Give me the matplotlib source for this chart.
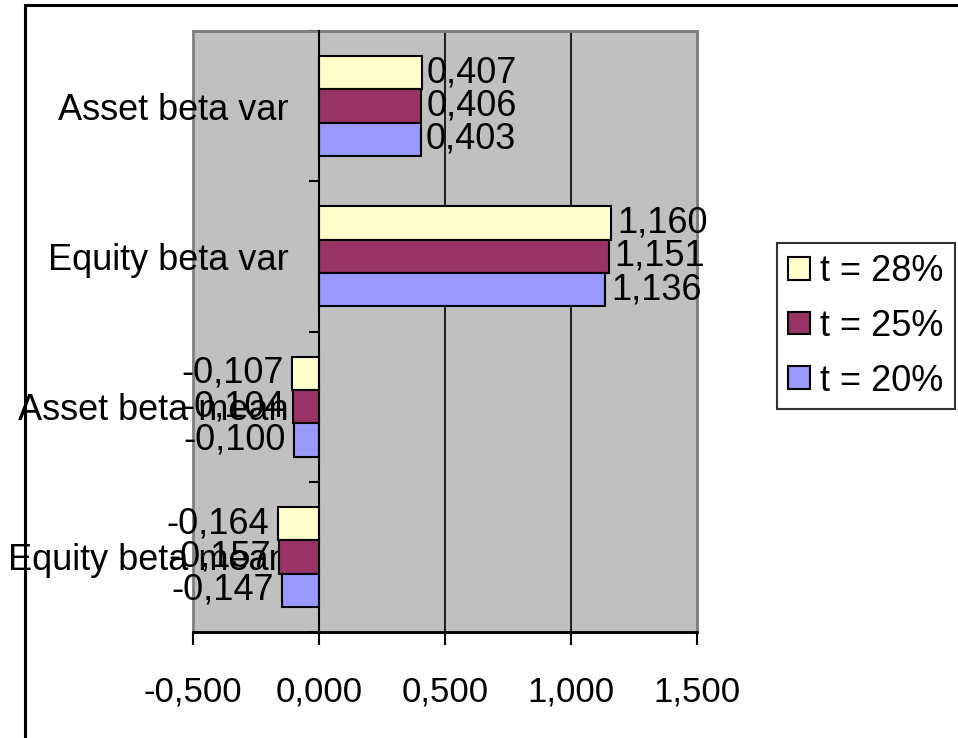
import matplotlib
matplotlib.use("Agg")
import matplotlib.pyplot as plt
from matplotlib.patches import Rectangle
import numpy as np

plt.rcParams['font.family'] = ['Liberation Sans', 'DejaVu Sans']

categories = ["Equity beta mean", "Asset beta mean", "Equity beta var", "Asset beta var"]
series_names = ["t = 28%", "t = 25%", "t = 20%"]
t28 = [-0.164, -0.107, 1.160, 0.407]
t25 = [-0.157, -0.104, 1.151, 0.406]
t20 = [-0.147, -0.100, 1.136, 0.403]
colors = ["#FFFFCC", "#993366", "#9999FF"]
xticks = [-0.5, 0.0, 0.5, 1.0, 1.5]

def fmt(v):
    return f"{v:.3f}".replace(".", ",")

FS = 26

fig = plt.figure(figsize=(9.58, 7.38), dpi=100)
ax = fig.add_axes([193/958, 1-632/738, (697-193)/958, (632-31)/738])

# figure border
fig.patches.append(Rectangle((25/958, -0.5), 2.0, 1.5 - 5/738, transform=fig.transFigure,
                             fill=False, edgecolor='black', linewidth=2.2, zorder=0))

ax.set_facecolor('#C0C0C0')
ax.set_xlim(-0.5, 1.5)
ax.set_ylim(-0.5, 3.5)

bh = 0.222
y = np.arange(len(categories))
data = [t28, t25, t20]
offsets = [bh, 0, -bh]
for vals, col, off, name in zip(data, colors, offsets, series_names):
    ax.barh(y + off, vals, height=bh, color=col, edgecolor='black', linewidth=1.5,
            label=name, zorder=3)
    for yy, v in zip(y + off, vals):
        if v >= 0:
            ax.annotate(fmt(v), (v, yy), xytext=(4, 0), textcoords='offset points',
                        ha='left', va='center', fontsize=FS, zorder=5)
        else:
            ax.annotate(fmt(v), (v, yy), xytext=(-6, 0), textcoords='offset points',
                        ha='right', va='center', fontsize=FS, zorder=5)

# grid lines
for gx in [0.5, 1.0]:
    ax.axvline(gx, color='black', linewidth=1.2, zorder=1)

# spines
ax.spines['left'].set_position(('data', 0))
ax.spines['left'].set_color('black')
ax.spines['left'].set_linewidth(1.5)
ax.spines['left'].set_zorder(4)
ax.spines['bottom'].set_color('black')
ax.spines['bottom'].set_linewidth(2)
for s in ['top', 'right']:
    ax.spines[s].set_color('#808080')
    ax.spines[s].set_linewidth(2)
ax.add_patch(Rectangle((0, 0), 1, 1, transform=ax.transAxes, fill=False,
                       edgecolor='#808080', linewidth=2, zorder=0.5, clip_on=False))

# x ticks
ax.set_xticks(xticks)
ax.set_xticklabels([fmt(v) for v in xticks], fontsize=25)
ax.tick_params(axis='x', direction='out', length=9, width=1.5, pad=22)

# y ticks: boundaries major, labels minor
ax.set_yticks([-0.5, 0.5, 1.5, 2.5, 3.5])
ax.set_yticklabels([])
ax.tick_params(axis='y', which='major', direction='out', length=7, width=1.5)
ax.set_yticks(y, minor=True)
ax.set_yticklabels(categories, minor=True, fontsize=FS)
ax.tick_params(axis='y', which='minor', length=0, pad=22)

handles, labels = ax.get_legend_handles_labels()
leg = fig.legend(handles, labels, loc='upper left',
                 bbox_to_anchor=(777/958, 1-243/738), fontsize=FS,
                 frameon=True, fancybox=False, edgecolor='black',
                 handlelength=0.6, handleheight=0.6, handletextpad=0.3,
                 labelspacing=0.55, borderpad=0.3, borderaxespad=0)
leg.get_frame().set_linewidth(1.5)

fig.savefig("out.png", dpi=100)
